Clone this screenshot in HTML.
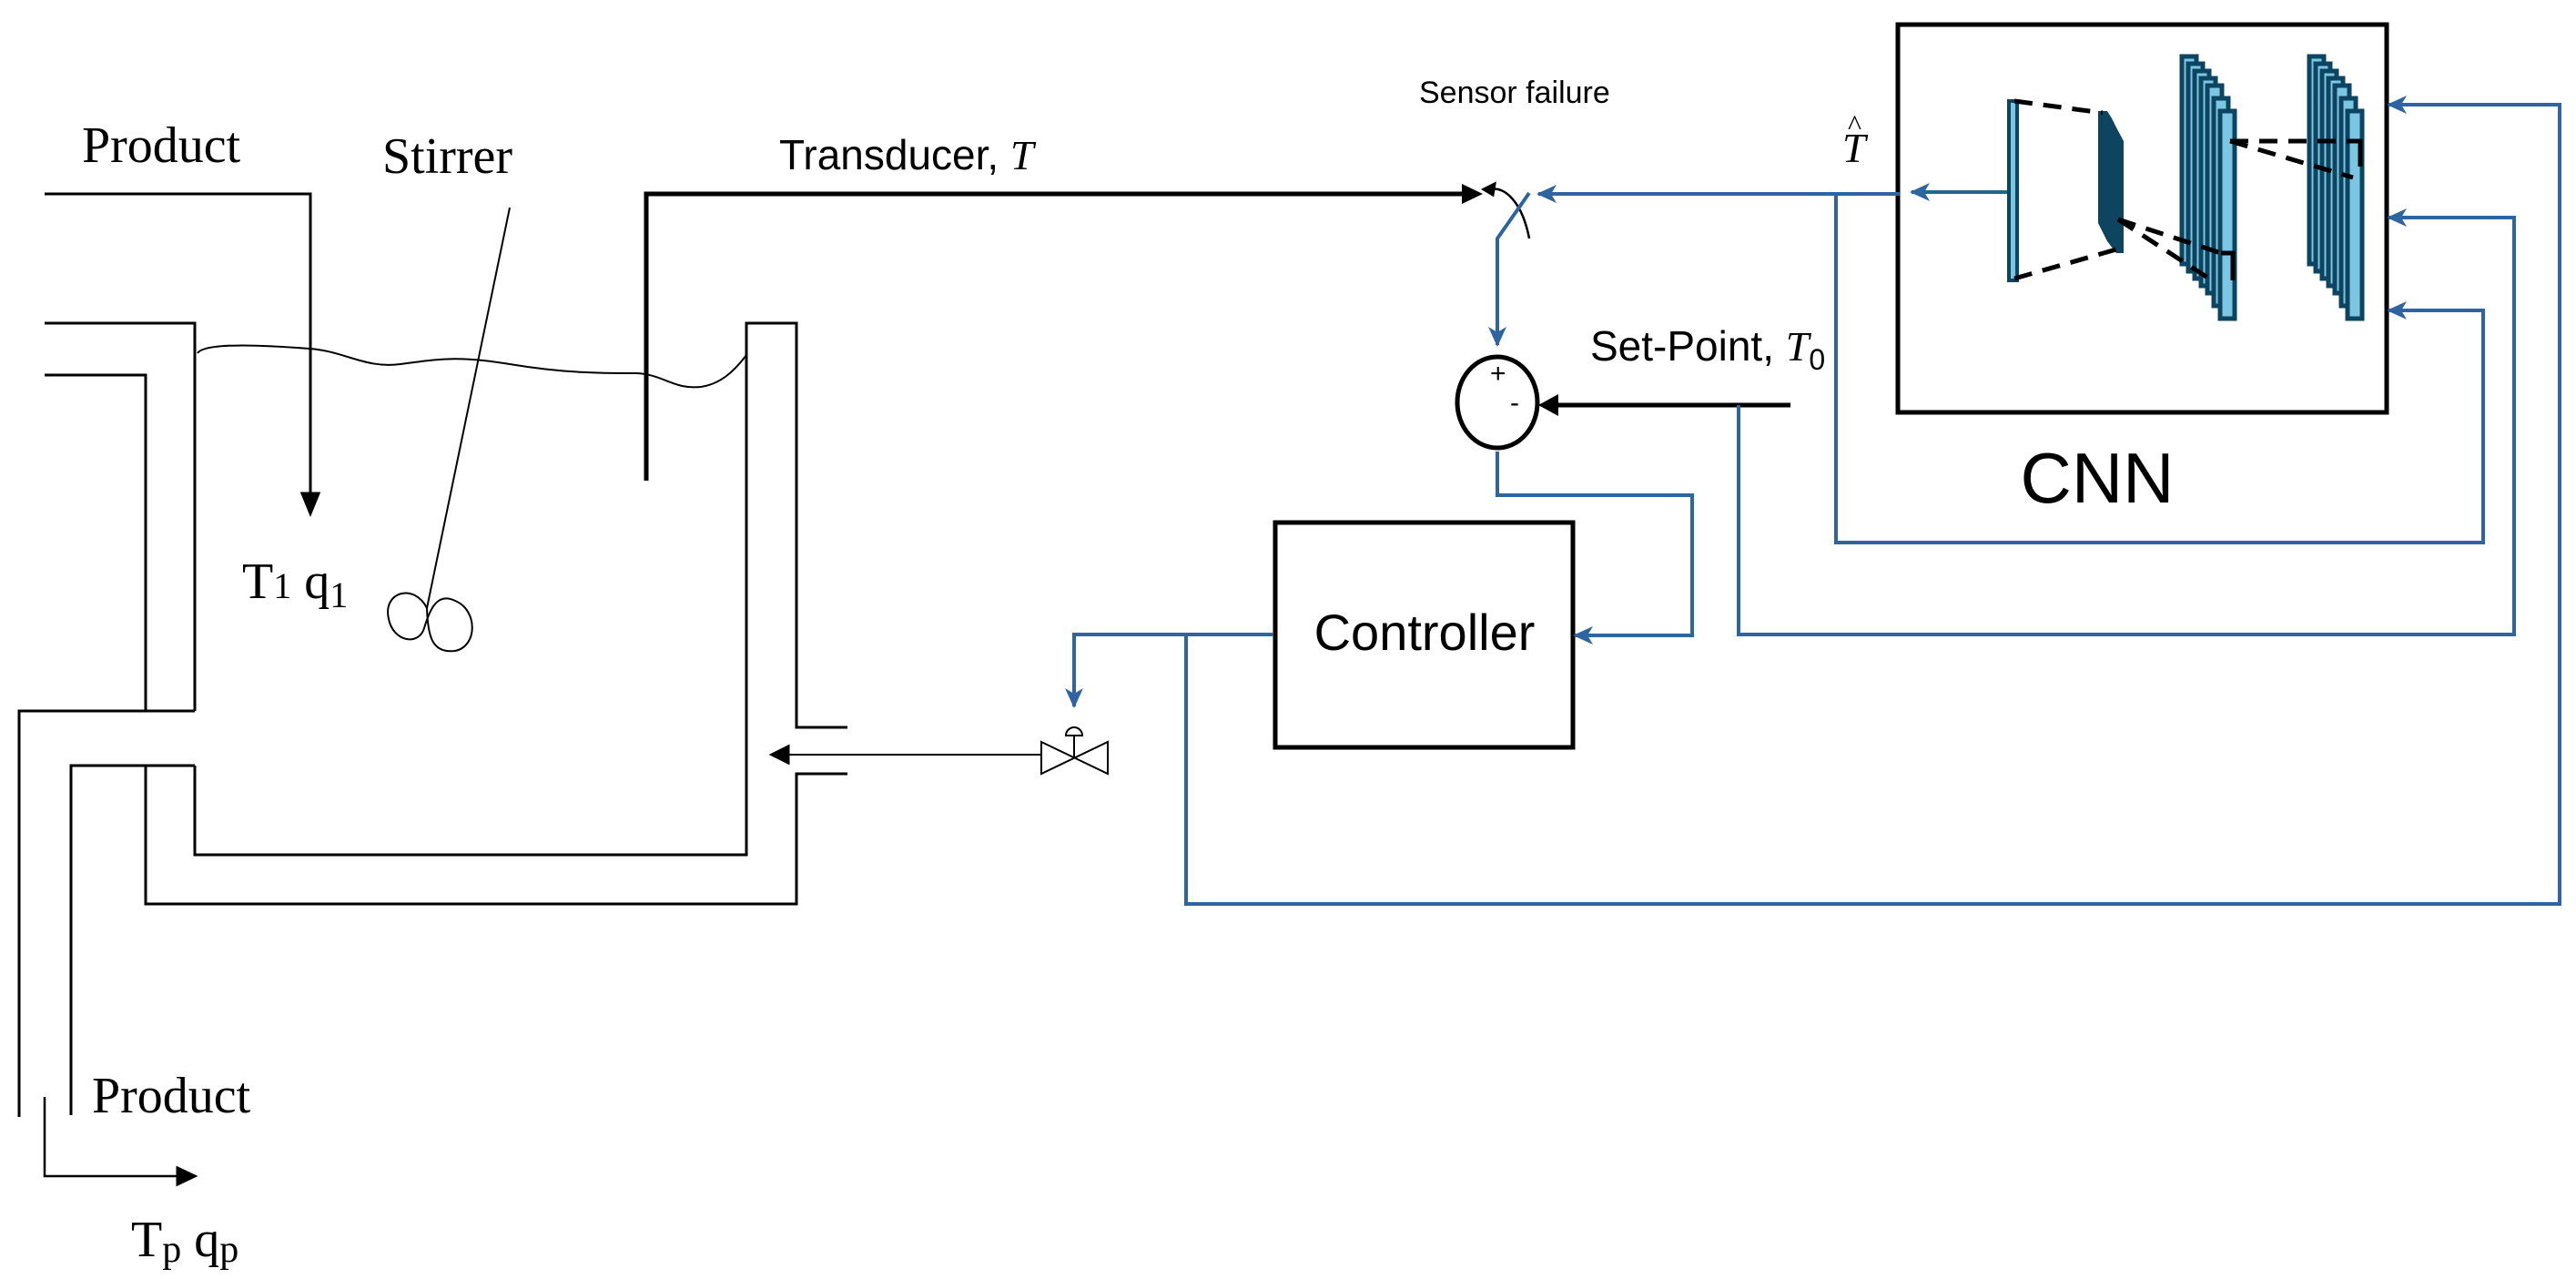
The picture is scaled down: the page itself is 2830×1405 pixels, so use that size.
<!DOCTYPE html>
<html><head><meta charset="utf-8"><style>
html,body{margin:0;padding:0;background:#fff}
svg{display:block}
.serif{font-family:"Liberation Serif",serif}
.sans{font-family:"Liberation Sans",sans-serif}
</style></head><body>
<svg width="2830" height="1405" viewBox="0 0 2830 1405" xmlns="http://www.w3.org/2000/svg">
<defs>
<marker id="abl" markerWidth="22" markerHeight="20" refX="20" refY="10" orient="auto" markerUnits="userSpaceOnUse"><path d="M0,0 L22,10 L0,20 L6,10 Z" fill="#2e64a0"/></marker>
</defs>
<g fill="none" stroke="#000" stroke-width="3">
<polyline points="49,213 341,213 341,548"/>
<path d="M332,542 L341,564 L350,542 Z" fill="#000"/>
<polyline points="49,355 214,355 214,781"/>
<polyline points="49,412 160,412 160,781"/>
<polyline points="21,1227 21,781 214,781"/>
<polyline points="78,1225 78,841 214,841"/>
<polyline points="160,841 160,993 875,993 875,850 931,850"/>
<polyline points="214,841 214,939 820,939 820,355 875,355 875,799 931,799"/>
<path d="M217,388 C225,375 300,380 340,383 C380,386 400,405 440,400 C480,395 500,390 560,400 C620,410 660,410 700,410 C730,412 740,428 770,425 C790,422 805,410 820,390" stroke-width="2"/>
<line x1="560" y1="228" x2="469" y2="668" stroke-width="2"/>
<path d="M469,668 C455,640 420,650 427,680 C432,705 460,710 466,690 C472,670 480,650 500,660 C525,670 525,710 500,715 C475,718 470,700 469,668" stroke-width="2"/>
<polyline points="49,1205 49,1292 200,1292" stroke-width="2.5"/>
<path d="M195,1283 L214,1292 L195,1301 Z" fill="#000"/>
<line x1="1144" y1="829" x2="860" y2="829" stroke-width="2"/>
<path d="M866,820 L848,829 L866,838 Z" fill="#000"/>
<path d="M1144,815 L1217,850 L1217,815 L1144,850 Z" stroke-width="2"/>
<line x1="1180" y1="832" x2="1180" y2="808" stroke-width="2"/>
<path d="M1171,808 A9,9 0 0 1 1189,808 Z" stroke-width="2"/>
<polyline points="710,528 710,213 1612,213" stroke-width="5"/>
<path d="M1606,202 L1629,213 L1606,224 Z" fill="#000" stroke="none"/>
<line x1="1967" y1="445" x2="1710" y2="445" stroke-width="5"/>
<path d="M1712,433 L1690,445 L1712,457 Z" fill="#000" stroke="none"/>
<path d="M1632,210 C1650,200 1672,220 1680,262" stroke-width="2.5"/>
<path d="M1630,208 L1642,202 L1640,214 Z" fill="#000"/>
<ellipse cx="1645" cy="442" rx="44" ry="50" stroke-width="5"/>
<rect x="1401" y="574" width="327" height="247" stroke-width="5"/>
<rect x="2085" y="27" width="537" height="426" stroke-width="5"/>
</g>
<g fill="none" stroke="#2e64a0" stroke-width="4">
<polyline points="2087,213 1690,213" marker-end="url(#abl)"/>
<polyline points="1680,212 1645,262 1645,379" marker-end="url(#abl)"/>
<polyline points="1645,496 1645,544 1859,544 1859,698 1730,698" marker-end="url(#abl)"/>
<polyline points="1399,697 1180,697 1180,776" marker-end="url(#abl)"/>
<polyline points="1303,697 1303,993 2812,993 2812,115 2624,115" marker-end="url(#abl)"/>
<polyline points="1910,445 1910,697 2762,697 2762,239 2624,239" marker-end="url(#abl)"/>
<polyline points="2017,213 2017,596 2728,596 2728,341 2624,341" marker-end="url(#abl)"/>
</g>
<line x1="2205" y1="211" x2="2100" y2="211" stroke="#1f6a8a" stroke-width="4" marker-end="url(#abl)"/>
<rect x="2207" y="111" width="9" height="197" fill="#7cc6e4" stroke="#0d4560" stroke-width="4"/>
<path d="M2305,122 L2315,122 L2320,130 L2325,140 L2333,155 L2333,278 L2325,278 L2315,265 L2305,245 Z" fill="#0d4560"/>
<g fill="#7cc6e4" stroke="#0d4560" stroke-width="5">
<rect x="2397" y="62" width="16" height="228"/>
<rect x="2404" y="70" width="16" height="228"/>
<rect x="2411" y="78" width="16" height="228"/>
<rect x="2418" y="86" width="16" height="228"/>
<rect x="2425" y="94" width="16" height="228"/>
<rect x="2432" y="108" width="16" height="228"/>
<rect x="2439" y="122" width="16" height="228"/>
<rect x="2537" y="62" width="16" height="228"/>
<rect x="2544" y="70" width="16" height="228"/>
<rect x="2551" y="78" width="16" height="228"/>
<rect x="2558" y="86" width="16" height="228"/>
<rect x="2565" y="94" width="16" height="228"/>
<rect x="2572" y="108" width="16" height="228"/>
<rect x="2579" y="122" width="16" height="228"/>
</g>
<g stroke="#000" stroke-width="5" stroke-dasharray="20,12" fill="none">
<line x1="2213" y1="111" x2="2310" y2="124"/>
<line x1="2213" y1="306" x2="2325" y2="274"/>
<line x1="2327" y1="241" x2="2440" y2="278"/>
<line x1="2327" y1="241" x2="2430" y2="308"/>
<line x1="2450" y1="155" x2="2585" y2="155"/>
<line x1="2450" y1="155" x2="2585" y2="195"/>
</g>
<g stroke="#000" stroke-width="5" fill="none">
<polyline points="2440,278 2453,278 2453,308"/>
<polyline points="2579,155 2593,155 2593,183"/>
</g>
<g class="serif" fill="#000">
<text x="90" y="178" font-size="56">Product</text>
<text x="420" y="190" font-size="56">Stirrer</text>
<text x="266" y="657" font-size="56">T<tspan font-size="40">1</tspan>  q<tspan font-size="40" dy="10">1</tspan></text>
<text x="101" y="1222" font-size="56">Product</text>
<text x="144" y="1380" font-size="56">T<tspan font-size="42" dy="6">p</tspan><tspan dy="-6">  q</tspan><tspan font-size="42" dy="6">p</tspan></text>
</g>
<g class="sans" fill="#000">
<text x="856" y="186" font-size="46">Transducer, <tspan class="serif" font-style="italic">T</tspan></text>
<text x="1559" y="113" font-size="34">Sensor failure</text>
<text x="1747" y="396" font-size="46">Set-Point, <tspan class="serif" font-style="italic">T</tspan><tspan font-size="32" dy="10">0</tspan></text>
<text x="1637" y="420" font-size="30">+</text>
<text x="1659" y="452" font-size="30">-</text>
<text x="1565" y="714" font-size="56" text-anchor="middle">Controller</text>
<text x="2304" y="552" font-size="78" text-anchor="middle">CNN</text>
<text x="2024" y="178" font-size="46" class="serif" font-style="italic">T</text>
<text x="2030" y="148" font-size="32" class="serif">^</text>
</g>
</svg>
</body></html>
